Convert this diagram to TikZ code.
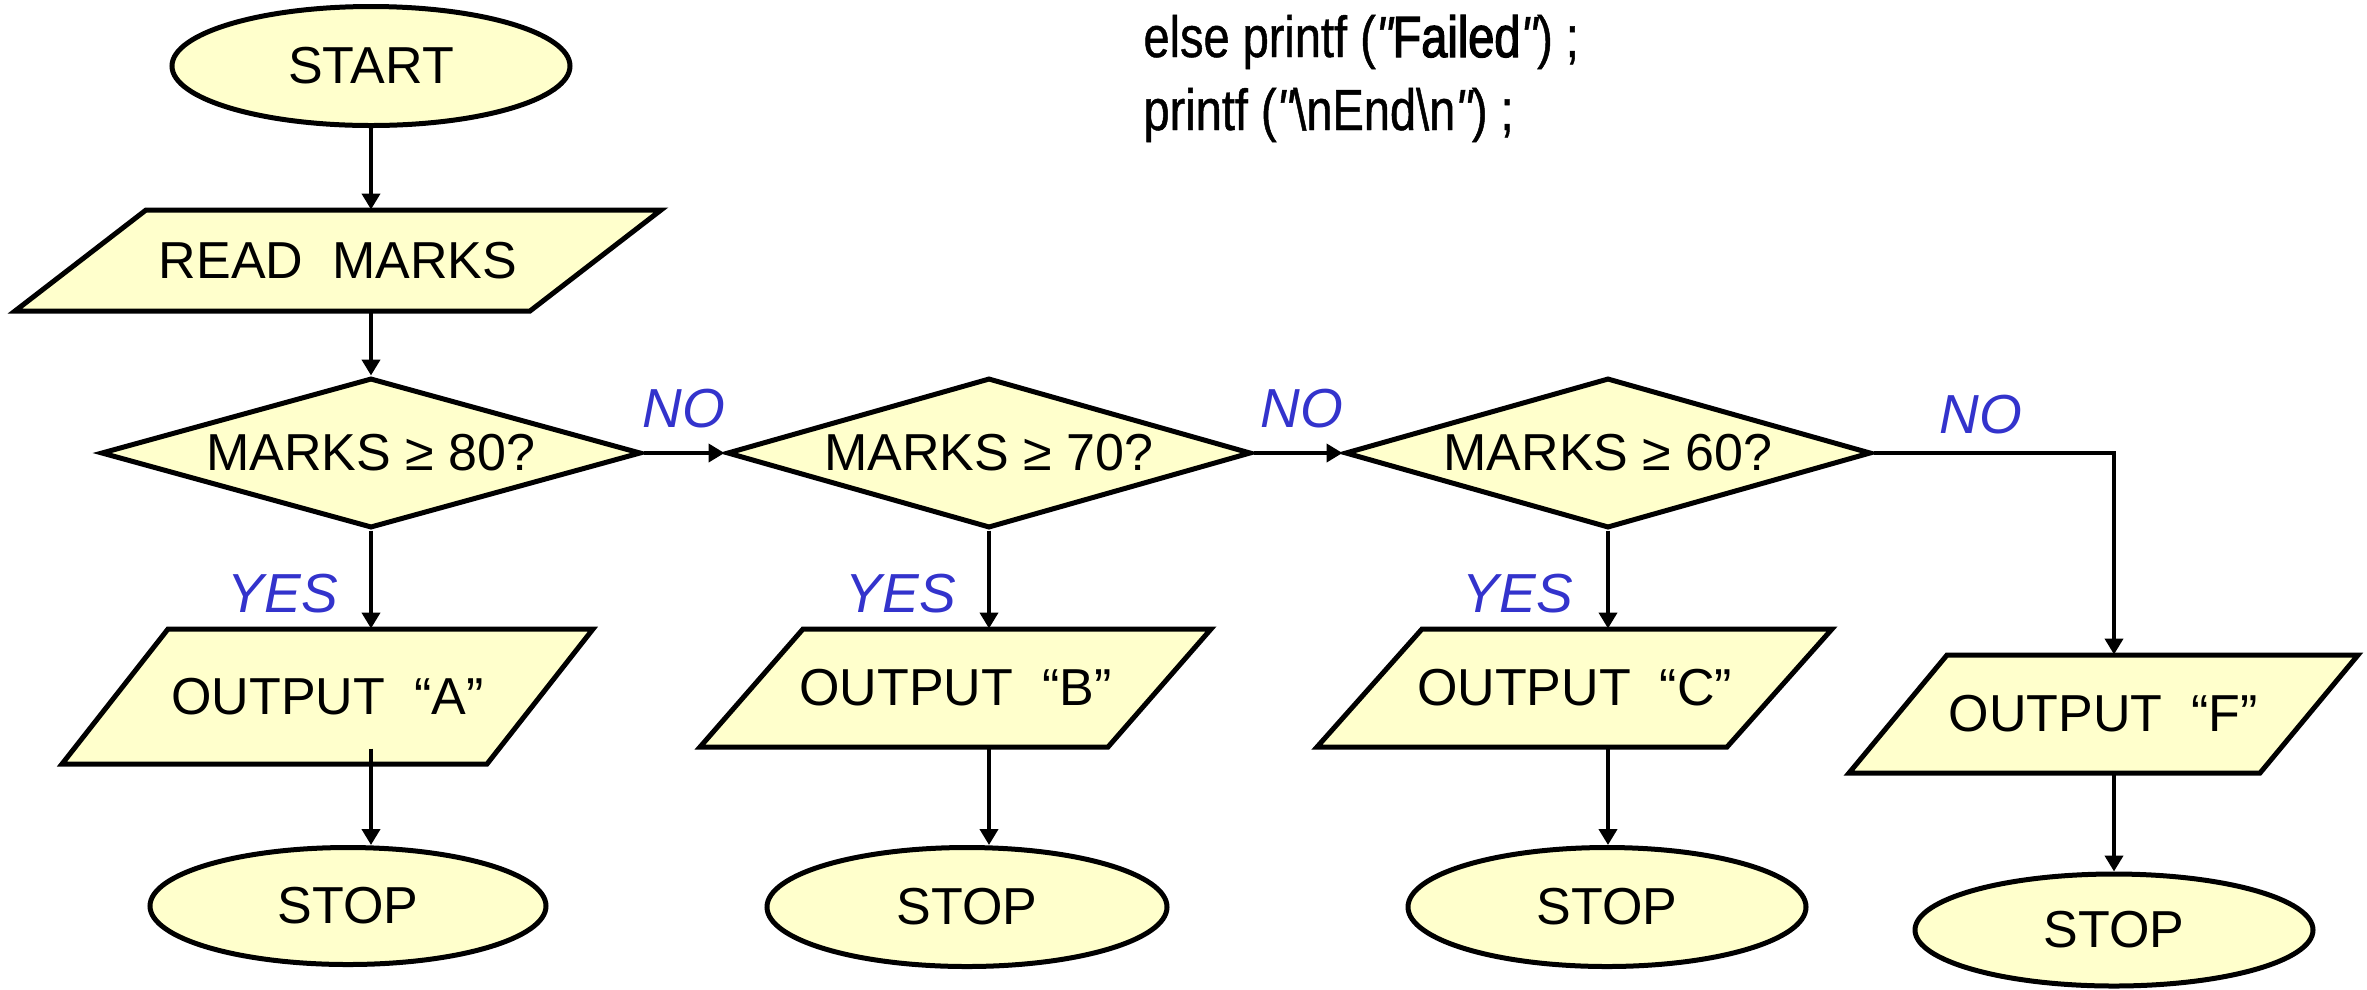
\documentclass[tikz,border=0pt]{standalone}
\usepackage{fontspec}
\setmainfont{Liberation Sans}
\newfontfamily\codefont[FakeStretch=0.81,FakeBold=0.8]{Liberation Sans}
\newfontfamily\codefontheavy[FakeStretch=0.81,FakeBold=2.2]{Liberation Sans}
\usetikzlibrary{shapes.geometric,arrows.meta,calc}
\definecolor{boxfill}{HTML}{FFFFCC}
\definecolor{lblblue}{HTML}{3333CC}
% #1 name, #2 cx, #3 cy, #4 edge length, #5 height, #6 slant, #7 text
\newcommand\ioshape[7]{%
  \filldraw[shapeline] ({#2-#4/2+#6/2},{#3-#5/2}) -- ({#2+#4/2+#6/2},{#3-#5/2})
     -- ({#2+#4/2-#6/2},{#3+#5/2}) -- ({#2-#4/2-#6/2},{#3+#5/2}) -- cycle;
  \node[boxtext,minimum width={#4*0.4pt},minimum height={#5*0.4pt}] (#1) at (#2,#3) {#7};}
\begin{document}
\begin{tikzpicture}[x=0.4pt,y=-0.4pt,
  shapeline/.style={draw=black,line width=2pt,fill=boxfill,line join=miter},
  boxtext/.style={font=\fontsize{20.8pt}{25pt}\selectfont,inner sep=0pt},
  term/.style={shapeline,boxtext,ellipse},
  decision/.style={shapeline,boxtext,diamond,shape aspect=3.6},
  yn/.style={font=\fontsize{22pt}{26pt}\selectfont\itshape,text=lblblue,inner sep=0pt},
  code/.style={font=\codefont\fontsize{23.2pt}{28pt}\selectfont,inner sep=0pt,anchor=base west},
  arr/.style={line width=1.9pt,-{Triangle[width=7.2pt,length=6.4pt]}},
  link/.style={line width=1.9pt}]
\useasboundingbox (0,0) rectangle (2367,989);

% code text
\node[code] (code1) at (1143,57) {else printf ({\itshape"}{\codefontheavy Failed}{\itshape"}) ;};
\node[code] (code2) at (1143,130) {printf ({\itshape"}\textbackslash nEnd\textbackslash n{\itshape"}) ;};

% terminals
\node[term,minimum width={398*0.4pt},minimum height={119*0.4pt}] (start) at (371,66) {START};
\node[term,minimum width={396*0.4pt},minimum height={117*0.4pt}] (stopA) at (348,906) {STOP};
\node[term,minimum width={400*0.4pt},minimum height={119*0.4pt}] (stopB) at (967,907) {STOP};
\node[term,minimum width={398*0.4pt},minimum height={119*0.4pt}] (stopC) at (1607,907) {STOP};
\node[term,minimum width={398*0.4pt},minimum height={112*0.4pt}] (stopF) at (2114,930) {STOP};

% input / output
\ioshape{read}{338}{260.5}{515}{101}{131}{READ\ \ MARKS}
\ioshape{outA}{327.5}{696.5}{425}{135}{106}{OUTPUT\ \ “A”}
\ioshape{outB}{955.5}{688}{408}{118}{103}{OUTPUT\ \ “B”}
\ioshape{outC}{1574.5}{688}{410}{118}{105}{OUTPUT\ \ “C”}
\ioshape{outF}{2103.5}{714}{411}{118}{98}{OUTPUT\ \ “F”}

% decisions
\node[decision,minimum width={540*0.4pt},minimum height={150*0.4pt}] (d1) at (371,453) {MARKS ≥ 80?};
\node[decision,minimum width={524*0.4pt},minimum height={150*0.4pt}] (d2) at (989,453) {MARKS ≥ 70?};
\node[decision,minimum width={526*0.4pt},minimum height={150*0.4pt}] (d3) at (1608,453) {MARKS ≥ 60?};

% labels
\node[yn] (no1) at (684,409) {NO};
\node[yn] (no2) at (1302,409) {NO};
\node[yn] (no3) at (1981,415) {NO};
\node[yn] (yes1) at (283,594) {YES};
\node[yn] (yes2) at (901,594) {YES};
\node[yn] (yes3) at (1518,594) {YES};

% connectors
\coordinate (fcorner) at (2114,453);
\draw[arr] (start.south) -- (start.south |- read.north);
\draw[arr] (d1.north |- read.south) -- (d1.north);
\draw[arr] (d1.south) -- (d1.south |- outA.north);
\draw[arr] ($(d1.south |- outA.south)+(0,-16)$) -- (d1.south |- stopA.north);
\draw[arr] (d1.east) -- (d2.west);
\draw[arr] (d2.east) -- (d3.west);
\draw[arr] (d2.south) -- (d2.south |- outB.north);
\draw[arr] (d2.south |- outB.south) -- (d2.south |- stopB.north);
\draw[arr] (d3.south) -- (d3.south |- outC.north);
\draw[arr] (d3.south |- outC.south) -- (d3.south |- stopC.north);
\draw[arr] (d3.east) -- (fcorner) -- (fcorner |- outF.north);
\draw[arr] (fcorner |- outF.south) -- (stopF.north);
\end{tikzpicture}
\end{document}
